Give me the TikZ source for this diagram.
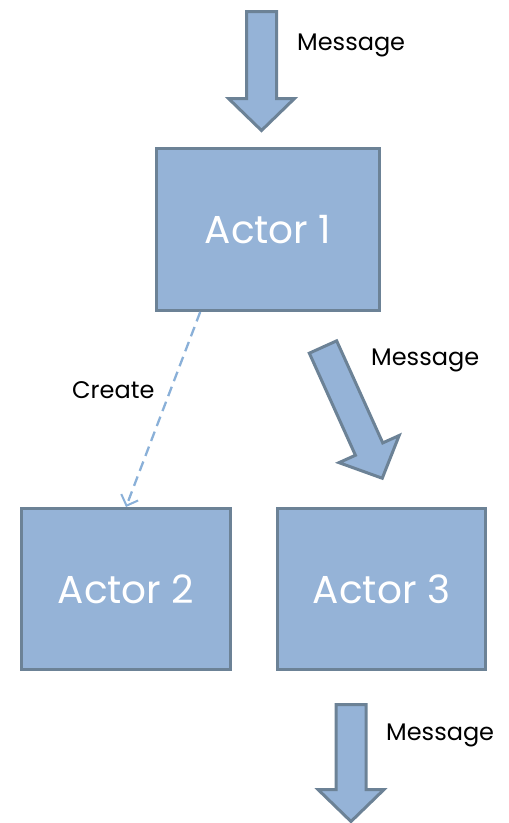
\documentclass[tikz,border=0pt]{standalone}
\usepackage{fontspec}
\setmainfont{Poppins}
\usetikzlibrary{arrows.meta,calc}
\definecolor{boxfill}{HTML}{95B3D7}
\definecolor{boxline}{HTML}{6C8296}
\definecolor{dashline}{HTML}{8AB0D8}
\tikzset{
  actor/.style={draw=boxline, fill=boxfill, line width=3pt, inner sep=0pt,
    text=white, font=\fontsize{39}{44}\selectfont, anchor=center},
  label/.style={font=\fontsize{24}{28}\selectfont, text=black, inner sep=0pt},
  arrowbody/.style={draw=boxline, fill=boxfill, line width=3pt, line join=miter},
  % block arrow pointing along +x, argument = total length
  pics/blockarrow/.style={code={
    \path[arrowbody] (0,-15) -- (#1-32,-15) -- (#1-32,-33) -- (#1,0)
      -- (#1-32,33) -- (#1-32,15) -- (0,15) -- cycle;
  }}
}
\begin{document}
\begin{tikzpicture}[x=1pt,y=1pt]
\useasboundingbox (0,0) rectangle (509,-823);

% actors
\node[actor, minimum width=223pt, minimum height=162pt] (a1) at (268,-229.5) {Actor 1};
\node[actor, minimum width=209pt, minimum height=161pt] (a2) at (126,-589) {Actor 2};
\node[actor, minimum width=208pt, minimum height=161pt] (a3) at (381.5,-589) {Actor 3};

% message arrows
\coordinate (m1s) at (261.5,-11.5);
\pic[rotate=-90] at (m1s) {blockarrow=119};
\coordinate (m2s) at (323,-347);
\pic[rotate=-65.7] at (m2s) {blockarrow=144};
\coordinate (m3s) at ($(a3.south)+(-30.5,-33.5)$);
\pic[rotate=-90] at (m3s) {blockarrow=117};

% labels
\node[label, anchor=west] (l1) at (297,-45) {Message};
\node[label, anchor=west] (l2) at (371,-360) {Message};
\node[label, anchor=west] (l3) at (386,-735) {Message};
\node[label, anchor=west] (lc) at (72,-390) {Create};

% creation link
\draw[dashline, line width=2.3pt, dash pattern=on 10pt off 6pt,
  -{Straight Barb[length=9pt,width=18pt,line width=2pt]}]
  ($(a1.south west)!0.2!(a1.south east)$) -- (a2.north);
\end{tikzpicture}
\end{document}
